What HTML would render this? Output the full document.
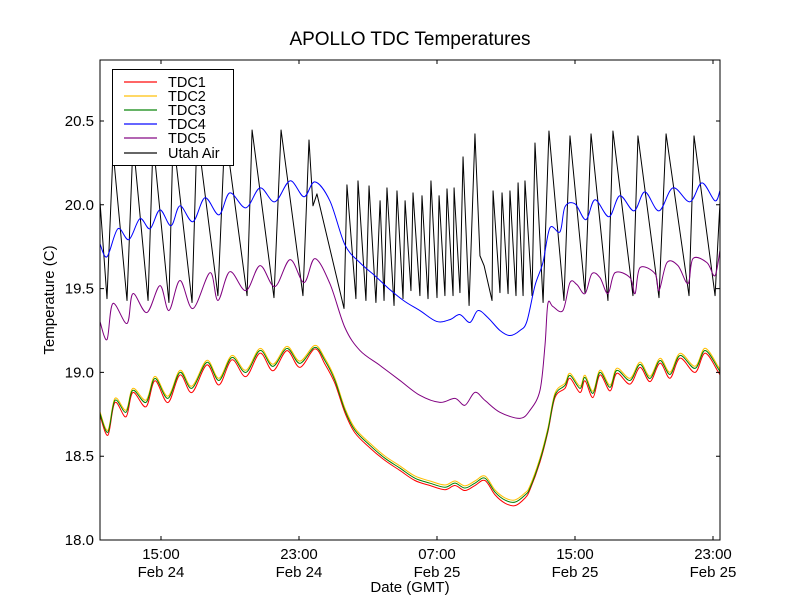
<!DOCTYPE html>
<html><head><meta charset="utf-8"><style>
body{margin:0;background:#fff;}
svg{display:block;font-family:"Liberation Sans","DejaVu Sans",sans-serif;}
</style></head><body>
<svg id="chart" width="800" height="600" viewBox="0 0 800 600">
<rect x="0" y="0" width="800" height="600" fill="#fff"/>
<text x="410" y="45" text-anchor="middle" font-size="19">APOLLO TDC Temperatures</text>
<g id="plot"></g>
<text x="410" y="592" text-anchor="middle" font-size="15">Date (GMT)</text>
<text transform="translate(54,300) rotate(-90)" text-anchor="middle" font-size="15">Temperature (C)</text>
</svg>
<script>
const xTicks=[15,23,31,39,47];
const xTickLabels1=["15:00","23:00","07:00","15:00","23:00"];
const xTickLabels2=["Feb 24","Feb 24","Feb 25","Feb 25","Feb 25"];
const yTicks=[18.0,18.5,19.0,19.5,20.0,20.5];
const yTickLabels=["18.0","18.5","19.0","19.5","20.0","20.5"];
const seriesNames=["TDC1","TDC2","TDC3","TDC4","TDC5","Utah Air"];
const seriesColors=["#ff0000","#ffbf00","#008000","#0000ff","#800080","#000000"];

const tdcTimes=[11.46,11.92,12.33,12.97,13.37,14.13,14.65,15.40,16.10,16.79,17.66,18.36,19.11,19.92,20.74,21.49,22.30,23.05,23.92,24.50,25.08,25.66,26.24,27.11,27.98,28.85,29.72,30.59,31.46,32.04,32.62,33.20,33.78,34.36,34.94,35.52,36.10,36.39,36.97,37.43,37.84,38.42,38.71,39.29,39.58,40.04,40.45,41.03,41.43,42.19,42.77,43.35,43.93,44.51,45.09,45.96,46.54,47.29,47.40];
const tdc3=[18.756,18.643,18.833,18.762,18.893,18.821,18.964,18.845,19.000,18.905,19.060,18.952,19.089,19.000,19.131,19.036,19.143,19.054,19.149,19.071,18.952,18.774,18.655,18.565,18.488,18.429,18.369,18.339,18.315,18.339,18.310,18.339,18.369,18.286,18.238,18.226,18.268,18.310,18.476,18.655,18.863,18.923,18.982,18.905,18.970,18.875,19.000,18.911,19.012,18.952,19.048,18.964,19.071,18.988,19.101,19.024,19.131,19.024,19.000];
const tdc1=[18.745,18.625,18.820,18.735,18.880,18.795,18.950,18.820,18.985,18.880,19.045,18.925,19.075,18.975,19.115,19.010,19.130,19.030,19.140,19.050,18.935,18.760,18.640,18.550,18.475,18.415,18.355,18.325,18.300,18.325,18.295,18.325,18.355,18.270,18.220,18.205,18.250,18.300,18.465,18.645,18.850,18.905,18.965,18.880,18.950,18.850,18.985,18.890,18.995,18.930,19.030,18.945,19.055,18.965,19.085,19.000,19.115,19.005,18.985];
const tdc2=[18.766,18.655,18.845,18.775,18.905,18.835,18.976,18.858,19.012,18.918,19.072,18.965,19.101,19.013,19.143,19.049,19.155,19.067,19.161,19.084,18.965,18.787,18.668,18.578,18.501,18.442,18.382,18.352,18.328,18.352,18.323,18.352,18.382,18.299,18.251,18.239,18.281,18.323,18.489,18.668,18.876,18.936,18.995,18.918,18.983,18.888,19.013,18.924,19.025,18.965,19.061,18.977,19.084,19.001,19.114,19.037,19.144,19.037,19.013];

const tdc4Times=[11.46,11.87,12.50,13.14,13.78,14.36,14.94,15.58,16.10,16.85,17.55,18.36,18.99,19.92,20.74,21.60,22.48,23.29,23.92,24.79,25.66,26.53,27.40,28.27,29.14,30.01,30.98,31.75,32.33,32.91,33.37,33.95,34.65,35.23,35.81,36.21,36.68,37.14,37.55,38.13,38.42,39.00,39.63,40.16,40.97,41.60,42.42,43.05,43.87,44.68,45.66,46.36,47.11,47.40];
const tdc4=[19.768,19.690,19.857,19.792,19.917,19.857,19.970,19.875,19.994,19.899,20.042,19.940,20.071,19.982,20.101,20.018,20.143,20.048,20.137,20.024,19.762,19.655,19.577,19.494,19.423,19.369,19.304,19.315,19.345,19.298,19.369,19.327,19.250,19.220,19.250,19.304,19.518,19.655,19.863,19.839,19.988,20.006,19.911,20.030,19.929,20.054,19.964,20.077,19.964,20.101,20.018,20.131,20.024,20.083];

const tdc5Times=[11.46,11.87,12.21,13.03,13.37,14.18,14.94,15.46,16.10,16.85,17.84,18.30,18.99,19.92,20.74,21.60,22.48,23.29,23.92,24.79,25.66,26.53,27.69,28.85,30.01,31.17,32.04,32.62,33.20,33.78,34.65,35.81,36.39,36.97,37.26,37.43,37.72,38.30,38.71,39.11,39.58,39.98,40.45,40.91,41.32,42.19,42.48,42.77,43.64,43.87,44.33,44.97,45.55,45.84,46.65,47.11,47.40];
const tdc5=[19.304,19.196,19.411,19.292,19.470,19.357,19.518,19.369,19.548,19.381,19.595,19.429,19.601,19.488,19.637,19.512,19.673,19.536,19.679,19.530,19.268,19.131,19.042,18.952,18.863,18.821,18.845,18.804,18.881,18.833,18.762,18.726,18.774,18.893,19.161,19.411,19.393,19.369,19.536,19.524,19.470,19.589,19.565,19.470,19.595,19.565,19.470,19.625,19.589,19.488,19.655,19.637,19.530,19.679,19.655,19.577,19.726];

const airTimes=[11.46,11.87,12.22,13.03,13.38,14.25,14.54,15.46,15.70,16.80,17.09,18.30,18.71,19.99,20.28,21.55,21.96,23.23,23.58,23.81,24.04,25.61,25.78,26.30,26.42,26.88,27.06,27.46,27.70,27.93,28.10,28.51,28.68,29.03,29.15,29.49,29.61,30.01,30.13,30.48,30.65,31.00,31.12,31.46,31.58,31.93,31.99,32.33,32.51,32.86,33.20,33.49,33.73,34.19,34.25,34.65,34.77,35.12,35.23,35.58,35.70,35.99,36.10,36.51,36.68,37.15,37.49,38.36,38.71,39.58,39.93,40.91,41.20,42.36,42.65,43.87,44.28,45.61,45.90,47.12,47.41];
const airTemps=[20.024,19.440,20.321,19.429,20.381,19.429,20.381,19.417,20.411,19.417,20.440,19.458,20.452,19.458,20.446,19.446,20.446,19.458,20.387,19.994,20.065,19.381,20.119,19.440,20.143,19.429,20.113,19.417,20.024,19.429,20.101,19.399,20.083,19.440,20.024,19.488,20.071,19.458,20.054,19.440,20.143,19.446,20.054,19.458,20.095,19.458,20.101,19.476,20.286,19.399,20.423,19.696,19.637,19.429,20.083,19.476,20.071,19.470,20.083,19.458,20.131,19.458,20.143,19.458,20.369,19.417,20.440,19.429,20.411,19.476,20.423,19.429,20.440,19.458,20.411,19.446,20.423,19.458,20.411,19.458,20.024];

const L=100,R=720,T=60,B=540;
const xMin=11.464,xMax=47.406,yMin=18.0,yMax=20.864;
function xs(h){return L+(h-xMin)/(xMax-xMin)*(R-L);}
function ys(v){return B-(v-yMin)/(yMax-yMin)*(B-T);}
const NS="http://www.w3.org/2000/svg";
const plot=document.getElementById('plot');
function mk(tag,attrs,parent){const e=document.createElementNS(NS,tag);for(const k in attrs)e.setAttribute(k,attrs[k]);(parent||plot).appendChild(e);return e;}

const clip=mk('clipPath',{id:'clip'});
mk('rect',{x:L,y:T,width:R-L,height:B-T},clip);
const lines=mk('g',{'clip-path':'url(#clip)'});



function drawSeries(times,vals,color,name,smooth){
  const P=times.map((t,i)=>[xs(t),ys(vals[i])]);
  let d='M'+P[0][0].toFixed(2)+','+P[0][1].toFixed(2);
  for(let i=1;i<P.length;i++){
    if(smooth){
      const p0=P[Math.max(0,i-2)],p1=P[i-1],p2=P[i],p3=P[Math.min(P.length-1,i+1)];
      const c1x=p1[0]+(p2[0]-p0[0])/6,c1y=p1[1]+(p2[1]-p0[1])/6;
      const c2x=p2[0]-(p3[0]-p1[0])/6,c2y=p2[1]-(p3[1]-p1[1])/6;
      d+=`C${c1x.toFixed(2)},${c1y.toFixed(2)} ${c2x.toFixed(2)},${c2y.toFixed(2)} ${p2[0].toFixed(2)},${p2[1].toFixed(2)}`;
    } else d+='L'+P[i][0].toFixed(2)+','+P[i][1].toFixed(2);
  }
  const p=mk('path',{d:d,fill:'none',stroke:color,'stroke-width':1,'stroke-linejoin':'round'},lines);
  
  
}
drawSeries(airTimes,airTemps,seriesColors[5],'utah-air-line',false);
drawSeries(tdc4Times,tdc4,seriesColors[3],'tdc4-line',true);
drawSeries(tdc5Times,tdc5,seriesColors[4],'tdc5-line',true);
drawSeries(tdcTimes,tdc2,seriesColors[1],'tdc2-line',true);
drawSeries(tdcTimes,tdc1,seriesColors[0],'tdc1-line',true);
drawSeries(tdcTimes,tdc3,seriesColors[2],'tdc3-line',true);

const frame=mk('rect',{x:L,y:T,width:R-L,height:B-T,fill:'none',stroke:'#000','stroke-width':1});



xTicks.forEach((t,i)=>{
  const x=xs(t);
  const tk=mk('path',{d:`M${x},${B}v-4M${x},${T}v4`,stroke:'#000','stroke-width':1});
  
  
  const a=mk('text',{x:x,y:B+19,'text-anchor':'middle','font-size':15});
  a.textContent=xTickLabels1[i];
  
  
  const b=mk('text',{x:x,y:B+37,'text-anchor':'middle','font-size':15});
  b.textContent=xTickLabels2[i];
  
  
});
yTicks.forEach((t,i)=>{
  const y=ys(t);
  const tk=mk('path',{d:`M${L},${y}h4M${R},${y}h-4`,stroke:'#000','stroke-width':1});
  
  
  const a=mk('text',{x:L-6,y:y+5,'text-anchor':'end','font-size':15});
  a.textContent=yTickLabels[i];
  
  
});

const leg=mk('g',{});


mk('rect',{x:112.5,y:69.5,width:121,height:96,fill:'#fff',stroke:'#000','stroke-width':1},leg);
seriesNames.forEach((n,i)=>{
  const y=Math.round(82+i*14.1);
  const g=mk('g',{},leg);
  
  
  const r=mk('rect',{x:124,y:y-0.6,width:33,height:1.2,fill:seriesColors[i]},g);
  const t=mk('text',{x:168,y:y+5,'font-size':14.5},g);
  t.textContent=n;
});
</script>
</body></html>
